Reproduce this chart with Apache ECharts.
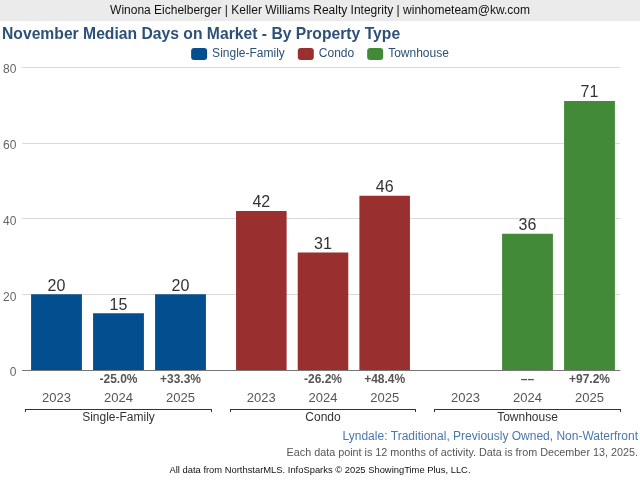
<!DOCTYPE html>
<html><head><meta charset="utf-8">
<script src="https://cdn.jsdelivr.net/npm/echarts@6/dist/echarts.min.js"></script>
<style>html,body{margin:0;padding:0;background:#fff}#c{width:640px;height:480px}</style>
</head><body><div id="c"></div>
<script>
const years = ['2023', '2024', '2025'];
const groups = ['Single-Family', 'Condo', 'Townhouse'];
const colors = ['#034e8e', '#9a2f30', '#428a37'];
const singleFamily = [20, 15, 20];
const condo = [42, 31, 46];
const townhouse = ['-', 36, 71];
const singleFamilyPct = ['', '-25.0%', '+33.3%'];
const condoPct = ['', '-26.2%', '+48.4%'];
const townhousePct = ['', '\u2013\u2013', '+97.2%'];
const yTicks = [0, 20, 40, 60, 80];

const values = [singleFamily, condo, townhouse];
const pcts = [singleFamilyPct, condoPct, townhousePct];
const FONT = '"Liberation Sans", Arial, Helvetica, sans-serif';
const grids = [
  {left: 22, right: 20, top: 67, bottom: 110},
  {left: 25.5, width: 186, top: 67, bottom: 110},
  {left: 230.5, width: 185, top: 67, bottom: 110},
  {left: 434.5, width: 186, top: 67, bottom: 110}
];
const xAxis = [{
  gridIndex: 0, type: 'category', data: [''], position: 'bottom', offset: 16,
  axisLine: {show: true, lineStyle: {color: '#777', width: 1}},
  axisTick: {show: false}, axisLabel: {show: false}, splitLine: {show: false}
}];
const yAxis = [{
  gridIndex: 0, type: 'value', min: yTicks[0], max: yTicks[yTicks.length - 1], interval: 20,
  axisLine: {show: false}, axisTick: {show: false},
  axisLabel: {color: '#666', fontSize: 12, fontFamily: FONT, margin: 6, verticalAlign: 'top', lineHeight: 6},
  splitLine: {lineStyle: {color: '#d9d9d9', width: 1}}
}];
const series = [];
groups.forEach((g, i) => {
  const gi = i + 1;
  const base = xAxis.length;
  xAxis.push({
    gridIndex: gi, type: 'category', data: years, position: 'bottom', offset: 16,
    axisLine: {show: false}, axisTick: {show: false},
    axisLabel: {color: '#555', fontSize: 13, fontFamily: FONT, margin: 6}
  });
  xAxis.push({
    gridIndex: gi, type: 'category', data: pcts[i], position: 'bottom', offset: 0,
    axisLine: {show: false}, axisTick: {show: false},
    axisLabel: {color: '#555', fontSize: 12, fontWeight: 'bold', fontFamily: FONT, margin: 4}
  });
  xAxis.push({
    gridIndex: gi, type: 'category', data: [g], position: 'bottom', offset: 39,
    axisLine: {show: true, lineStyle: {color: '#333', width: 1}},
    axisTick: {show: true, length: 3, lineStyle: {color: '#333'}},
    axisLabel: {color: '#333', fontSize: 12, fontFamily: FONT, margin: 3}
  });
  yAxis.push({
    gridIndex: gi, type: 'value', min: 0, max: 80, interval: 20, show: false,
    splitLine: {show: false}
  });
  series.push({
    name: g, type: 'bar', xAxisIndex: base, yAxisIndex: gi,
    data: values[i], barWidth: '82%',
    itemStyle: {color: colors[i]},
    label: {show: true, position: 'top', color: '#333', fontSize: 16, fontFamily: FONT, distance: 0},
    emphasis: {disabled: true}
  });
});

const chart = echarts.init(document.getElementById('c'), null, {renderer: 'canvas'});
chart.setOption({
  animation: false,
  backgroundColor: '#fff',
  graphic: [{type: 'rect', shape: {x: 0, y: 0, width: 640, height: 21}, style: {fill: '#ebebeb'}, z: -1}],
  title: [
    {text: 'Winona Eichelberger | Keller Williams Realty Integrity | winhometeam@kw.com', left: 'center', top: 5, padding: 0,
     textStyle: {fontSize: 12, fontWeight: 'normal', color: '#111', fontFamily: FONT}},
    {text: 'November Median Days on Market - By Property Type', left: 2, top: 27, padding: 0,
     textStyle: {fontSize: 15.7, fontWeight: 'bold', color: '#2d5079', fontFamily: FONT}},
    {text: 'Lyndale: Traditional, Previously Owned, Non-Waterfront', right: 2, top: 431, padding: 0,
     textStyle: {fontSize: 12, fontWeight: 'normal', color: '#4a78ad', fontFamily: FONT}},
    {text: 'Each data point is 12 months of activity. Data is from December 13, 2025.', right: 2, top: 448, padding: 0,
     textStyle: {fontSize: 10.8, fontWeight: 'normal', color: '#555', fontFamily: FONT}},
    {text: 'All data from NorthstarMLS. InfoSparks \u00a9 2025 ShowingTime Plus, LLC.', left: 'center', top: 466, padding: 0,
     textStyle: {fontSize: 9.4, fontWeight: 'normal', color: '#111', fontFamily: FONT}}
  ],
  legend: {
    data: groups, left: 'center', top: 48, padding: 0, itemWidth: 16, itemHeight: 12, itemGap: 13,
    icon: 'roundRect',
    textStyle: {color: '#2d5079', fontSize: 12, fontFamily: FONT}
  },
  grid: grids,
  xAxis: xAxis,
  yAxis: yAxis,
  series: series
});
</script></body></html>
